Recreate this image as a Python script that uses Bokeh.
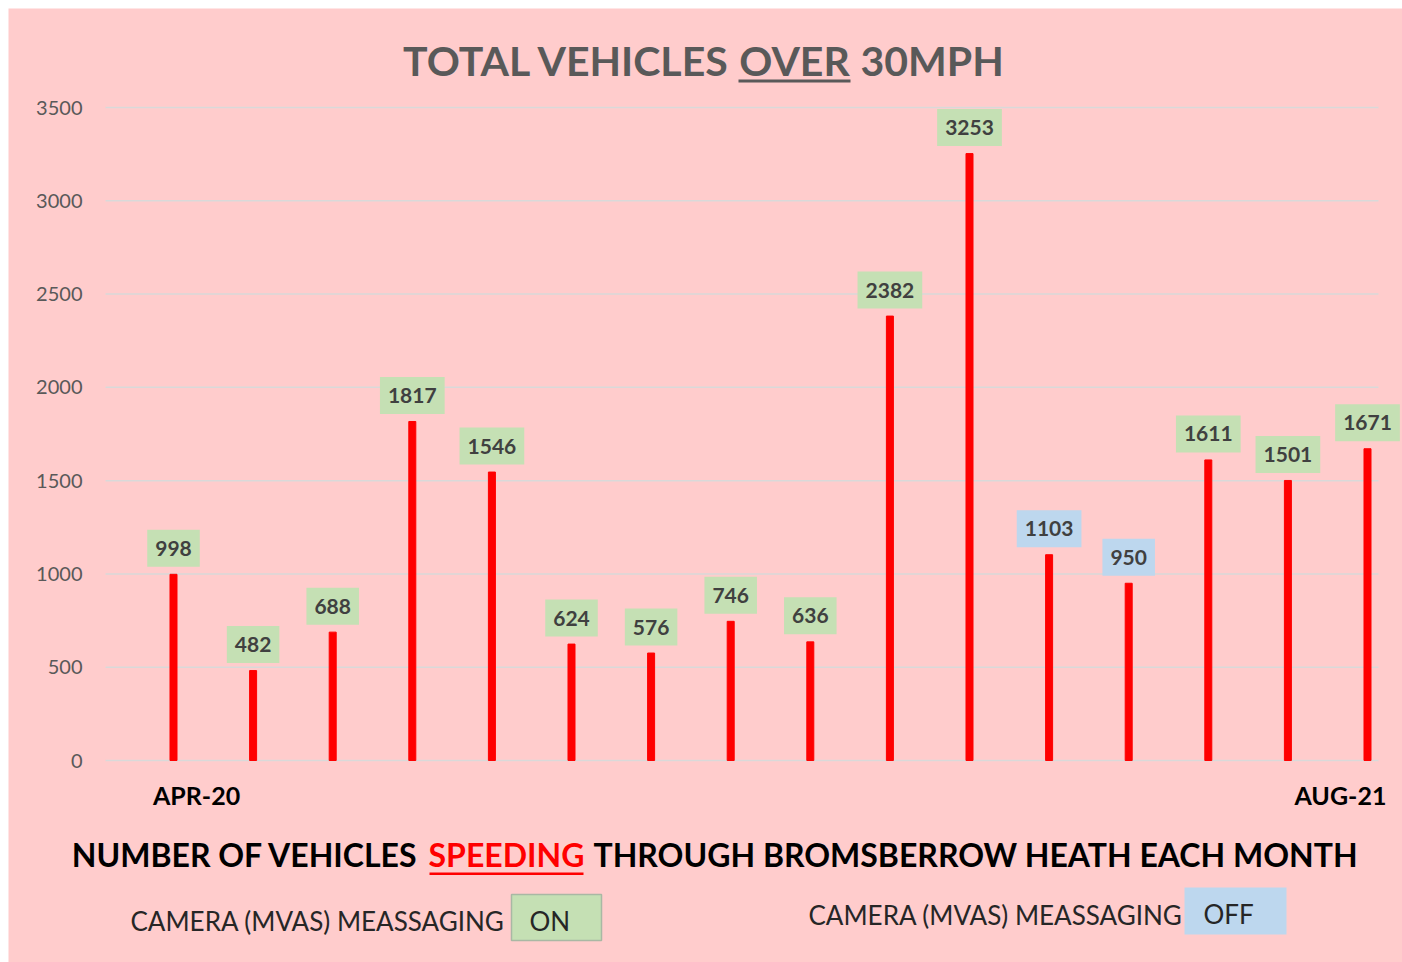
from bokeh.plotting import figure
from bokeh.models import Label, FixedTicker
from bokeh.core.properties import value
from bokeh.embed import file_html
from bokeh.resources import INLINE

# ---- data ----
months_first_last = ["APR-20", "AUG-21"]
values = [998, 482, 688, 1817, 1546, 624, 576, 746, 636, 2382, 3253, 1103, 950, 1611, 1501, 1671]
camera_on = [True, True, True, True, True, True, True, True, True, True, True, False, False, True, True, True]
y_ticks = [0, 500, 1000, 1500, 2000, 2500, 3000, 3500]

# ---- styles ----
BG = "#FFCCCC"
GREEN = "#C5E0B4"
BLUE = "#BDD7EE"
FONT = "Lato"

# layout helpers: page pixel -> data coordinate (layout only, for titles/legend)
X0PX, DXPX = 173.0, 79.6           # first month position, px per month
Y0PX, DYPX = 760.0, 653.0 / 3500.0  # zero line, px per vehicle
def X(px): return (px - X0PX) / DXPX
def Y(py): return (Y0PX - py) / DYPX

W, H = 1394, 954
p = figure(width=W, height=H, output_backend="svg", toolbar_location=None,
           x_range=(X(8), X(1402)), y_range=(Y(962), Y(8)), margin=(8, 0, 0, 8),
           min_border=0, background_fill_color=BG, border_fill_color=BG, outline_line_color=None)
p.grid.visible = False

# gridlines
p.segment(x0=[X(105)] * len(y_ticks), x1=[X(1378)] * len(y_ticks), y0=y_ticks, y1=y_ticks,
          line_color="#D9D9D9", line_width=1.5)

# bars
idx = list(range(len(values)))
p.vbar(x=idx, top=values, bottom=0, width=0.088, color="#FF0000")

# axes (fixed inside the canvas)
p.yaxis.fixed_location = X(105)
p.yaxis.ticker = FixedTicker(ticks=y_ticks)
p.yaxis.axis_line_color = None
p.yaxis.major_tick_line_color = None
p.yaxis.minor_tick_line_color = None
p.yaxis.major_label_text_font = FONT
p.yaxis.major_label_text_font_size = "20px"
p.yaxis.major_label_text_color = "#595959"
p.yaxis.major_label_standoff = 17

xt = [0 + 0.29, len(values) - 1 - 0.34]
p.xaxis.fixed_location = 0
p.xaxis.ticker = FixedTicker(ticks=xt)
p.xaxis.major_label_overrides = {xt[0]: months_first_last[0], xt[1]: months_first_last[1]}
p.xaxis.axis_line_color = None
p.xaxis.major_tick_line_color = None
p.xaxis.minor_tick_line_color = None
p.xaxis.major_label_text_font = FONT
p.xaxis.major_label_text_font_size = "25px"
p.xaxis.major_label_text_font_style = "bold"
p.xaxis.major_label_text_color = "#000000"
p.xaxis.major_label_standoff = 13

# value labels
for i, (v, on) in enumerate(zip(values, camera_on)):
    p.add_layout(Label(x=i, y=v, text=str(v), y_offset=26, text_align="center", text_baseline="middle",
                       text_font=FONT, text_font_size="21px", text_font_style="bold", text_color="#404040",
                       background_fill_color=GREEN if on else BLUE, padding=(8, 11)))


def txt(px, py, s, size, color, bold=True, align="left"):
    # py is the desired baseline; compensate renderer's alphabetic offset
    p.text(x=[X(px)], y=[Y(py - 0.4 * size)], text=[s], text_align=align, text_baseline="alphabetic",
           text_font=value(FONT), text_font_size=f"{size}px", text_color=color,
           text_font_style="bold" if bold else "normal")


def rect(l, r, t, b, fill, line=None, lw=1.5):
    p.quad(left=[X(l)], right=[X(r)], top=[Y(t)], bottom=[Y(b)], fill_color=fill,
           line_color=line, line_width=lw)


# title
txt(730, 76, "TOTAL VEHICLES", 41, "#595959", True, "right")
txt(794, 76, "OVER", 41, "#595959", True, "center")
txt(860, 76, "30MPH", 41, "#595959", True, "left")
rect(738, 850, 79, 82, "#595959")

# subtitle
txt(418, 867, "NUMBER OF VEHICLES", 32, "#000000", True, "right")
txt(506, 867, "SPEEDING", 32, "#FF0000", True, "center")
txt(593, 867, "THROUGH BROMSBERROW HEATH EACH MONTH", 32, "#000000", True, "left")
rect(429, 583, 872, 874.5, "#FF0000")

# legend
rect(511, 601, 894, 940, GREEN, "#A9B8A4")
rect(1184, 1286, 887, 934, BLUE)
txt(130, 931, "CAMERA (MVAS) MEASSAGING", 26, "#262626", False)
txt(529, 931, "ON", 26, "#262626", False)
txt(808, 925, "CAMERA (MVAS) MEASSAGING", 26, "#262626", False)
txt(1203, 924, "OFF", 26, "#262626", False)

open("out.html", "w").write(file_html(p, INLINE))
